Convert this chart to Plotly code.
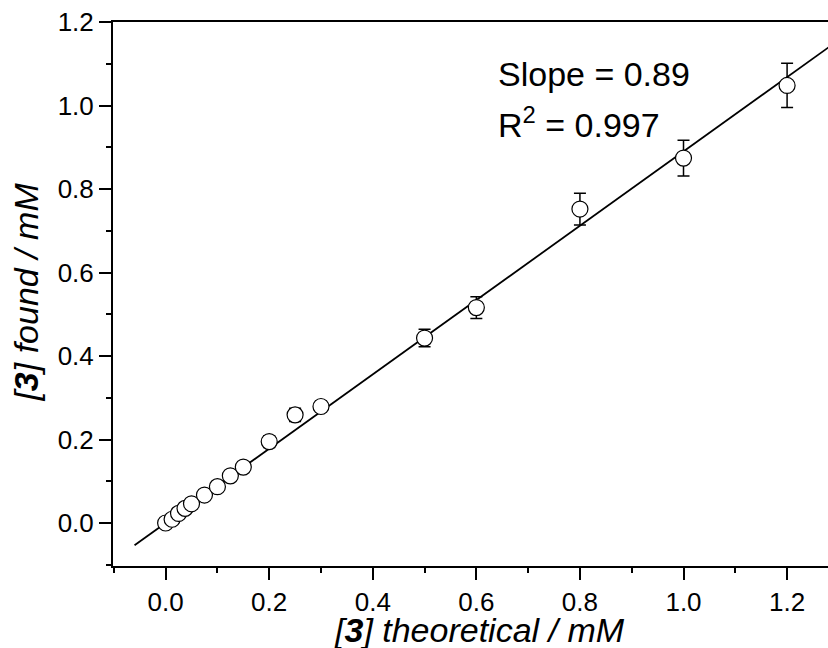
import plotly.graph_objects as go

# Data
x_theoretical = [0.0, 0.0125, 0.025, 0.0375, 0.05, 0.075, 0.1, 0.125, 0.15, 0.2, 0.25, 0.3, 0.5, 0.6, 0.8, 1.0, 1.2]
y_found = [0.0, 0.009, 0.023, 0.035, 0.046, 0.067, 0.087, 0.113, 0.134, 0.195, 0.259, 0.279, 0.443, 0.516, 0.752, 0.874, 1.048]
y_err = [0.005, 0.005, 0.005, 0.006, 0.006, 0.007, 0.008, 0.010, 0.012, 0.014, 0.016, 0.013, 0.021, 0.026, 0.038, 0.043, 0.053]

slope = 0.89
r_squared = 0.997
fit_x = [-0.06, 1.28]
fit_y = [slope * v for v in fit_x]

tick_vals = [0.0, 0.2, 0.4, 0.6, 0.8, 1.0, 1.2]
tick_text = ["0.0", "0.2", "0.4", "0.6", "0.8", "1.0", "1.2"]

FONT = "Liberation Sans, Arial, sans-serif"

fig = go.Figure()
fig.add_trace(go.Scatter(
    x=fit_x, y=fit_y, mode="lines",
    line=dict(color="black", width=1.8),
    showlegend=False, hoverinfo="skip",
))
fig.add_trace(go.Scatter(
    x=x_theoretical, y=y_found, mode="markers",
    marker=dict(symbol="circle", size=16, color="white",
                line=dict(color="black", width=1.2)),
    error_y=dict(type="data", array=y_err, visible=True,
                 color="black", thickness=1.5, width=6),
    showlegend=False,
))

axis_common = dict(
    showgrid=False, zeroline=False,
    showline=True, linecolor="black", linewidth=2,
    ticks="outside", ticklen=12, tickwidth=2, tickcolor="black",
    tickvals=tick_vals, ticktext=tick_text,
    tickfont=dict(family=FONT, size=26, color="black"),
    minor=dict(ticks="outside", ticklen=5, tickwidth=2, tickcolor="black", dtick=0.1),
)

fig.update_xaxes(range=[-0.1016, 1.279], mirror=True, **axis_common)
fig.update_yaxes(range=[-0.103, 1.2], mirror=False, **axis_common)

fig.update_layout(
    width=828, height=648, autosize=False,
    margin=dict(l=113, r=0, t=22, b=82, pad=0),
    plot_bgcolor="white", paper_bgcolor="white",
    font=dict(family=FONT, color="black"),
    annotations=[
        dict(text="Slope = %.2f" % slope, xref="paper", yref="paper",
             x=0.535, y=0.905, xanchor="left", yanchor="middle",
             showarrow=False, font=dict(family=FONT, size=34, color="black")),
        dict(text="R<sup>2</sup> = %.3f" % r_squared, xref="paper", yref="paper",
             x=0.535, y=0.815, xanchor="left", yanchor="middle",
             showarrow=False, font=dict(family=FONT, size=34, color="black")),
        dict(text="<i>[<b>3</b>] theoretical / mM</i>", xref="paper", yref="paper",
             x=0.512, y=-0.118, xanchor="center", yanchor="middle",
             showarrow=False, font=dict(family=FONT, size=34, color="black")),
        dict(text="<i>[<b>3</b>] found / mM</i>", xref="paper", yref="paper",
             x=-0.122, y=0.504, xanchor="center", yanchor="middle", textangle=-90,
             showarrow=False, font=dict(family=FONT, size=34, color="black")),
    ],
)

fig.write_html("out.html")
